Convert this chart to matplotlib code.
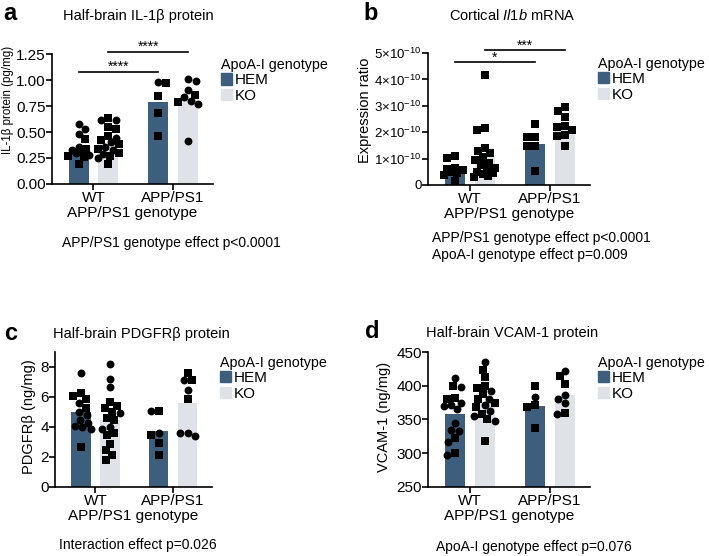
"""Four-panel bar + scatter figure: IL-1b protein / mRNA, PDGFRb, VCAM-1
by APP/PS1 genotype and ApoA-I genotype (HEM vs KO)."""
import numpy as np
import matplotlib
matplotlib.use("Agg")
import matplotlib.pyplot as plt
from matplotlib.patches import Patch

plt.rcParams["font.family"] = ["Liberation Sans", "DejaVu Sans"]
plt.rcParams["mathtext.fontset"] = "custom"
plt.rcParams["mathtext.rm"] = "Liberation Sans"
plt.rcParams["mathtext.it"] = "Liberation Sans:italic"

W, H = 709, 556
HEM_COLOR = "#3d5f7d"
KO_COLOR = "#dfe3e8"

groups = ["WT", "APP/PS1"]
genotypes = ["HEM", "KO"]

# ---- panel a: IL-1b protein (pg/mg) ----
a_means = [0.35, 0.38, 0.79, 0.82]  # WT-HEM, WT-KO, APP-HEM, APP-KO
a_wt_hem = [0.58, 0.53, 0.48, 0.43, 0.36, 0.34, 0.33, 0.31, 0.30, 0.28, 0.27, 0.26, 0.19]
a_wt_hem_m = "ooosososooss" + "s"
a_wt_ko = [0.63, 0.62, 0.62, 0.55, 0.53, 0.46, 0.44, 0.42, 0.40, 0.38, 0.36, 0.34,
           0.33, 0.30, 0.29, 0.27, 0.25, 0.19]
a_wt_ko_m = "soosssosososososos"
a_app_hem = [0.98, 0.97, 0.85, 0.68, 0.46]
a_app_hem_m = "ossss"
a_app_ko = [1.01, 0.99, 0.90, 0.86, 0.84, 0.80, 0.79, 0.77, 0.41]
a_app_ko_m = "ooosoosoo"

# ---- panel b: cortical Il1b mRNA (expression ratio, x1e-10) ----
b_means = [0.57, 1.08, 1.56, 2.19]
b_wt_hem = [1.10, 1.01, 0.65, 0.62, 0.58, 0.50, 0.44, 0.38, 0.15]
b_wt_ko = [4.18, 2.17, 2.08, 1.42, 1.30, 1.20, 1.05, 0.95, 0.85, 0.75, 0.65, 0.55,
           0.50, 0.45, 0.40, 0.35, 0.32]
b_app_hem = [2.30, 1.83, 1.80, 1.49, 1.46, 0.54]
b_app_ko = [2.94, 2.81, 2.57, 2.25, 2.20, 2.09, 1.90, 1.85, 1.48]

# ---- panel c: PDGFRb (ng/mg) ----
c_means = [5.02, 4.50, 3.76, 5.61]
c_wt_hem = [7.6, 6.3, 6.1, 5.9, 5.6, 5.3, 5.0, 4.8, 4.5, 4.3, 4.1, 4.0, 3.9, 2.7]
c_wt_hem_m = "osssosooooooos"
c_wt_ko = [8.22, 7.23, 6.67, 5.68, 5.4, 5.3, 5.0, 4.95, 4.6, 4.46, 4.02, 3.9, 3.58,
           3.5, 2.9, 2.47, 2.14, 1.8]
c_wt_ko_m = "ooossssossoosssss" + "s"
c_app_hem = [5.1, 5.1, 3.6, 3.5, 2.95, 2.15]
c_app_hem_m = "soosss"
c_app_ko = [7.6, 7.15, 7.15, 6.5, 5.86, 3.6, 3.4, 3.6]
c_app_ko_m = "sosos" + "ooo"

# ---- panel d: VCAM-1 (ng/mg) ----
d_means = [357.6, 376.3, 370.4, 387.0]
d_wt_hem = [411, 400, 398, 382, 381, 375, 372, 370, 365, 345, 335, 333, 322, 316, 300, 298]
d_wt_hem_m = "osossooooooososo"
d_wt_ko = [435, 424, 413, 399, 397, 392, 388, 381, 380, 374, 371, 369, 362, 358,
           355, 350, 348, 318]
d_wt_ko_m = "ossssosossososososs"[:18]
d_app_hem = [399, 383, 371, 368, 337]
d_app_hem_m = "sosss"
d_app_ko = [422, 414, 403, 387, 381, 374, 360, 358]
d_app_ko_m = "ossooo" + "so"

BAR_OFF = 0.187
BAR_W = 0.25


def px(x, y):
    """pixel coords (from top-left) -> figure fraction"""
    return x / W, 1 - y / H


def swarm_x(ax, xc, values, half_width, diam_px=7.5):
    """Spread points sideways across the bar so markers don't overlap."""
    vals = np.asarray(values, float)
    ypix = ax.transData.transform(np.column_stack([np.full(len(vals), xc), vals]))[:, 1]
    ppu = ax.transData.transform((1, 0))[0] - ax.transData.transform((0, 0))[0]
    hw = half_width * ppu
    cands = sorted(np.linspace(-hw, hw, 25), key=abs)
    placed = []
    out = np.zeros(len(vals))
    for i in np.argsort(-vals):
        best, bestd = 0.0, -1.0
        for c in cands:
            d = min((np.hypot(c - p, ypix[i] - q) for p, q in placed), default=np.inf)
            if d >= diam_px:
                best = c
                break
            if d > bestd:
                best, bestd = c, d
        placed.append((best, ypix[i]))
        out[i] = best
    return xc + out / ppu


def draw_panel(rect, means, pts, marks, ylim, yticks, yticklabels, ytick_size=11):
    l, b = px(rect[0], rect[3])
    r, t = px(rect[2], rect[1])
    ax = fig.add_axes([l, b, r - l, t - b])
    ax.set_xlim(0.48, 2.5)
    ax.set_ylim(*ylim)
    xs = [1 - BAR_OFF, 1 + BAR_OFF, 2 - BAR_OFF, 2 + BAR_OFF]
    cols = [HEM_COLOR, KO_COLOR, HEM_COLOR, KO_COLOR]
    ax.bar(xs, np.asarray(means) - ylim[0], bottom=ylim[0], width=BAR_W,
           color=cols, edgecolor="none", zorder=1)
    for x, v, m in zip(xs, pts, marks):
        sx = swarm_x(ax, x, v, 0.13)
        for xi, yi, mi in zip(sx, v, m):
            ax.scatter(xi, yi, marker=mi, s=32 if mi == "o" else 27,
                       color="black", linewidths=0, zorder=3, clip_on=False)
    for s in ("top", "right"):
        ax.spines[s].set_visible(False)
    for s in ("left", "bottom"):
        ax.spines[s].set_linewidth(1.2)
    ax.tick_params(width=1.2, length=4, labelsize=11, pad=1)
    ax.tick_params(axis="y", labelsize=ytick_size, pad=0.5)
    ax.set_xticks([1, 2])
    ax.set_xticklabels(groups)
    ax.set_yticks(yticks)
    ax.set_yticklabels(yticklabels)
    ax.set_xlabel("APP/PS1 genotype", fontsize=11, labelpad=1)
    handles = [Patch(color=HEM_COLOR, label="HEM"), Patch(color=KO_COLOR, label="KO")]
    ax.legend(handles=handles, title="ApoA-I genotype", loc="upper left",
              bbox_to_anchor=(1.0, 1.03), frameon=False, fontsize=11,
              title_fontsize=10.3, handlelength=0.75, handleheight=0.75,
              handletextpad=0.2, labelspacing=0.1, borderpad=0,
              alignment="left")
    return ax


def sig_bar(ax, x0, x1, y, stars):
    ax.plot([x0, x1], [y, y], color="black", lw=1.2, clip_on=False)
    ax.annotate(stars, ((x0 + x1) / 2, y), xytext=(0, 0.5), textcoords="offset points",
                ha="center", va="baseline", fontsize=10, annotation_clip=False)


fig = plt.figure(figsize=(W / 100, H / 100), dpi=100)

# a
ax_a = draw_panel((52, 54, 213, 184), a_means,
                  [a_wt_hem, a_wt_ko, a_app_hem, a_app_ko],
                  [a_wt_hem_m, a_wt_ko_m, a_app_hem_m, a_app_ko_m],
                  (0, 1.25), [0, 0.25, 0.5, 0.75, 1.0, 1.25],
                  ["0.00", "0.25", "0.50", "0.75", "1.00", "1.25"])
sig_bar(ax_a, 1 - BAR_OFF, 2 - BAR_OFF, 1.08, "****")
sig_bar(ax_a, 1 + BAR_OFF, 2 + BAR_OFF, 1.27, "****")

# b
b_ticks = [0, 1, 2, 3, 4, 5]
ax_b = draw_panel((428, 53, 590, 185), b_means,
                  [b_wt_hem, b_wt_ko, b_app_hem, b_app_ko],
                  ["s" * len(b_wt_hem), "s" * len(b_wt_ko), "s" * len(b_app_hem), "s" * len(b_app_ko)],
                  (0, 5), b_ticks,
                  ["0"] + [r"$%d{\times}10^{-10}$" % t for t in b_ticks[1:]],
                  ytick_size=9.5)
sig_bar(ax_b, 1 - BAR_OFF, 2 - BAR_OFF, 4.66, "*")
sig_bar(ax_b, 1 + BAR_OFF, 2 + BAR_OFF, 5.10, "***")

# c
ax_c = draw_panel((55, 352, 212, 487), c_means,
                  [c_wt_hem, c_wt_ko, c_app_hem, c_app_ko],
                  [c_wt_hem_m, c_wt_ko_m, c_app_hem_m, c_app_ko_m],
                  (0, 9), [0, 2, 4, 6, 8], ["0", "2", "4", "6", "8"])

# d
ax_d = draw_panel((428, 352, 590, 487), d_means,
                  [d_wt_hem, d_wt_ko, d_app_hem, d_app_ko],
                  [d_wt_hem_m, d_wt_ko_m, d_app_hem_m, d_app_ko_m],
                  (250, 450), [250, 300, 350, 400, 450],
                  ["250", "300", "350", "400", "450"])

# panel letters, titles, y labels, stats notes
for letter, (x, y) in zip("abcd", [(3, 14), (363, 14), (4, 333), (365, 332)]):
    fig.text(*px(x, y), letter, fontsize=17, fontweight="bold", ha="left", va="center")

titles = ["Half-brain IL-1\u03b2 protein", r"Cortical $Il1b$ mRNA",
          "Half-brain PDGFR\u03b2 protein", "Half-brain VCAM-1 protein"]
for t, (x, y) in zip(titles, [(138, 16), (512, 16), (141, 334), (512, 333)]):
    fig.text(*px(x, y), t, fontsize=10.5, ha="center", va="center")

ylabels = ["IL-1\u03b2 protein (pg/mg)", "Expression ratio", "PDGFR\u03b2 (ng/mg)", "VCAM-1 (ng/mg)"]
ylabel_sizes = [8.3, 10.5, 10.5, 10.5]
for t, fs, (x, y) in zip(ylabels, ylabel_sizes, [(8, 100), (365, 110), (29, 417), (384, 417)]):
    fig.text(*px(x, y), t, fontsize=fs, rotation=90, ha="center", va="center")

fig.text(*px(171, 243), "APP/PS1 genotype effect p<0.0001", fontsize=10, ha="center", va="center")
fig.text(*px(432, 238), "APP/PS1 genotype effect p<0.0001", fontsize=10, ha="left", va="center")
fig.text(*px(432, 255), "ApoA-I genotype effect p=0.009", fontsize=10, ha="left", va="center")
fig.text(*px(138, 545), "Interaction effect p=0.026", fontsize=10, ha="center", va="center")
fig.text(*px(534, 547), "ApoA-I genotype effect p=0.076", fontsize=10, ha="center", va="center")

fig.savefig("out.png", dpi=100)
plt.close(fig)
